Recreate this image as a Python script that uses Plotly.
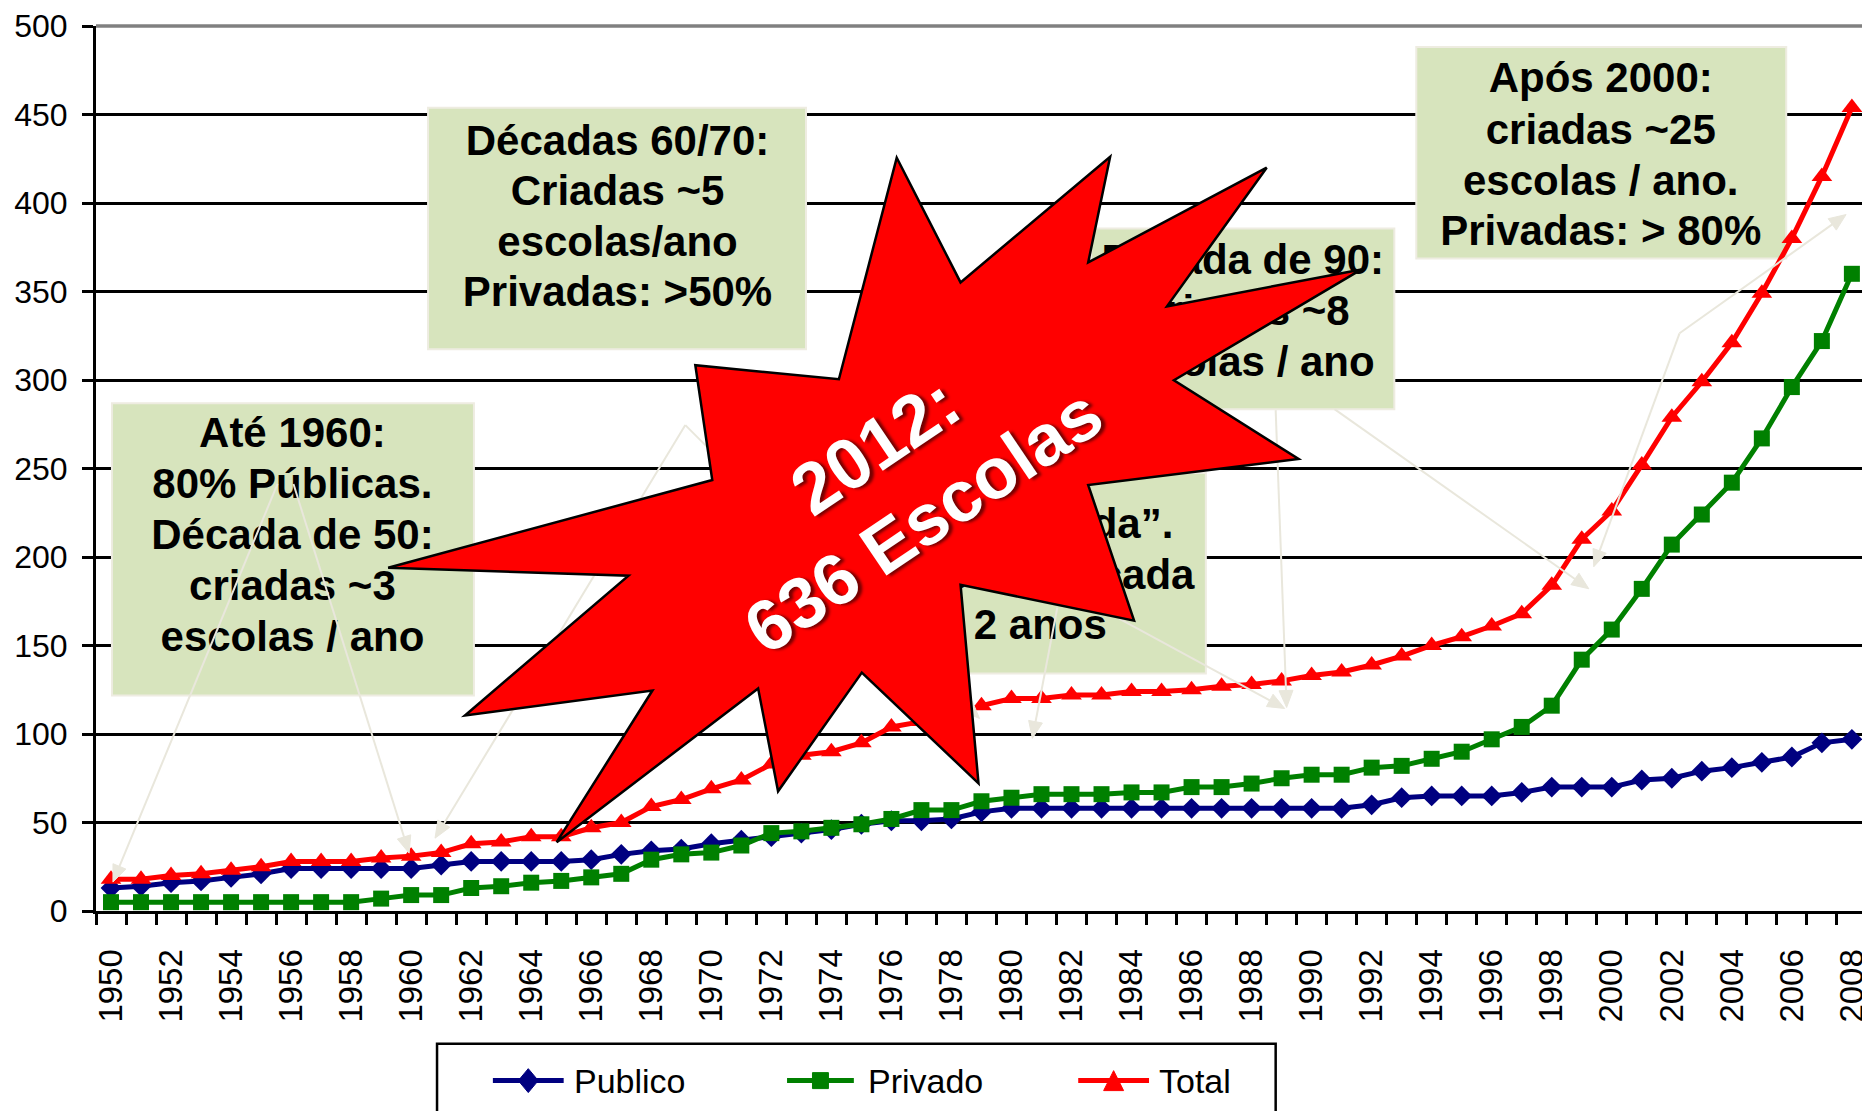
import math
import plotly.graph_objects as go

# ---------------- data ----------------
years = list(range(1950, 2009))
publico = [13, 14, 16, 17, 19, 21, 24, 24, 24, 24,
           24, 26, 28, 28, 28, 28, 29, 32, 34, 35,
           38, 40, 42, 44, 46, 49, 51, 51, 52, 56,
           58, 58, 58, 58, 58, 58, 58, 58, 58, 58,
           58, 58, 60, 64, 65, 65, 65, 67, 70, 70,
           70, 74, 75, 79, 81, 84, 87, 95, 97]
privado = [5, 5, 5, 5, 5, 5, 5, 5, 5, 7,
           9, 9, 13, 14, 16, 17, 19, 21, 29, 32,
           33, 37, 44, 45, 47, 49, 52, 57, 57, 62,
           64, 66, 66, 66, 67, 67, 70, 70, 72, 75,
           77, 77, 81, 82, 86, 90, 97, 104, 116, 142,
           159, 182, 207, 224, 242, 267, 296, 322, 360]
total = [18, 18, 20, 21, 23, 25, 28, 28, 28, 30,
         31, 33, 38, 39, 42, 42, 47, 50, 59, 63,
         69, 74, 83, 88, 90, 95, 104, 107, 110, 116,
         120, 120, 122, 122, 124, 124, 125, 127, 128, 130,
         133, 135, 139, 144, 150, 155, 161, 168, 184, 210,
         226, 252, 279, 299, 321, 349, 380, 415, 454]
series_names = ["Publico", "Privado", "Total"]
y_ticks = list(range(0, 501, 50))
x_ticks = list(range(1950, 2009, 2))

box_texts = [
    ["Até 1960:", "80% Públicas.", "Década de 50:", "criadas ~3", "escolas / ano"],
    ["Décadas 60/70:", "Criadas ~5", "escolas/ano", "Privadas: >50%"],
    ["Década de 90:", "Criadas ~8", "escolas / ano"],
    ["“Estagnada”.", "1 escola a cada", "2 anos"],
    ["Após 2000:", "criadas ~25", "escolas / ano.", "Privadas: > 80%"],
]
star_lines = ["2012:", "636 Escolas"]

# ---------------- geometry (page pixels of the reference) ----------------
PAGE_OFF = 8                      # default body margin of the html page
W, H = 1870 - PAGE_OFF, 1111 - PAGE_OFF
PL, PR, PT, PB = 96, 1870, 24, 911   # plot area in page pixels
STEP = 30.1
X0 = 1949.5
XMAX = X0 + (PR - PL) / STEP
PLOT_H = PB - PT
FONT = "Liberation Sans, Arial, sans-serif"

def dx(px):
    return X0 + (px - PL) / STEP

def dy(py):
    return (PB - py) * 500.0 / PLOT_H

def ppx(px):
    return (px - PL) / (PR - PL)

def ppy(py):
    return (PB - py) / PLOT_H

box_geo = [
    dict(x0=112, x1=475, y0=402, y1=695, cx=293, ly=[435, 487, 538, 589, 640]),
    dict(x0=429, x1=808, y0=106, y1=348, cx=619, ly=[143, 193, 244, 294]),
    dict(x0=1094, x1=1398, y0=227, y1=408, cx=1246, ly=[262, 313, 364]),
    dict(x0=877, x1=1209, y0=472, y1=673, cx=1043, ly=[527, 578, 628]),
    dict(x0=1420, x1=1791, y0=45, y1=257, cx=1605, ly=[80, 132, 183, 233]),
]

arrows = [
    (278, 483, 113, 882),
    (294, 483, 410, 853),
    (687, 424, 436, 838),
    (687, 424, 982, 718),
    (1060, 607, 1035, 738),
    (1122, 618, 1288, 708),
    (1279, 409, 1290, 707),
    (1338, 408, 1593, 588),
    (1684, 332, 1851, 213),
    (1684, 332, 1598, 566),
]

star_pts = [(899, 156), (963, 281), (1113, 155), (1091, 261), (1270, 166), (1170, 305),
            (1365, 268), (1177, 379), (1302, 458), (1091, 484), (1137, 620), (963, 584),
            (981, 783), (864, 672), (780, 791), (760, 688), (558, 842), (654, 690),
            (466, 715), (630, 575), (389, 567), (714, 479), (697, 364), (841, 378)]

NAVY, GREEN, RED = "#000080", "#008000", "#FF0000"
BOXFILL = "#D7E4BD"
ARROWC = "#E9E7DC"

fig = go.Figure()

fig.add_trace(go.Scatter(x=years, y=publico, name=series_names[0], mode="lines+markers",
                         line=dict(color=NAVY, width=5),
                         marker=dict(symbol="diamond", size=16, color=NAVY)))
fig.add_trace(go.Scatter(x=years, y=privado, name=series_names[1], mode="lines+markers",
                         line=dict(color=GREEN, width=5),
                         marker=dict(symbol="square", size=16, color=GREEN)))
fig.add_trace(go.Scatter(x=years, y=total, name=series_names[2], mode="lines+markers",
                         line=dict(color=RED, width=5),
                         marker=dict(symbol="triangle-up", size=18, color=RED)))

shapes = []
for g in box_geo:
    shapes.append(dict(type="rect", xref="x", yref="y", layer="between",
                       x0=dx(g["x0"]), x1=dx(g["x1"]), y0=dy(g["y0"]), y1=dy(g["y1"]),
                       fillcolor=BOXFILL, line=dict(color="#EEECE1", width=2)))

for g, lines in zip(box_geo, box_texts):
    fig.add_trace(go.Scatter(x=[dx(g["cx"])] * len(lines), y=[dy(v) for v in g["ly"]],
                             mode="text", text=lines, textposition="middle center",
                             textfont=dict(family=FONT, size=42, color="black", weight="bold"),
                             hoverinfo="skip", showlegend=False, cliponaxis=False))

# gray top border at 500 (paper-referenced so it is not clipped)
shapes.append(dict(type="line", xref="paper", yref="paper", x0=0, x1=1, y0=1, y1=1,
                   line=dict(color="#808080", width=3.5), layer="above"))

for (x0, y0, x1, y1) in arrows:
    L = math.hypot(x1 - x0, y1 - y0)
    ux, uy = (x1 - x0) / L, (y1 - y0) / L
    hl, hw = 17, 7
    bx, by = x1 - ux * hl, y1 - uy * hl
    shapes.append(dict(type="line", xref="x", yref="y", layer="above",
                       x0=dx(x0), y0=dy(y0), x1=dx(bx), y1=dy(by),
                       line=dict(color=ARROWC, width=2)))
    p1 = (bx - uy * hw, by + ux * hw)
    p2 = (bx + uy * hw, by - ux * hw)
    path = "M {},{} L {},{} L {},{} Z".format(dx(x1), dy(y1), dx(p1[0]), dy(p1[1]), dx(p2[0]), dy(p2[1]))
    shapes.append(dict(type="path", xref="x", yref="y", layer="above", path=path,
                       fillcolor=ARROWC, line=dict(color=ARROWC, width=1)))

star_path = "M " + " L ".join("{},{}".format(dx(p[0]), dy(p[1])) for p in star_pts) + " Z"
shapes.append(dict(type="path", xref="x", yref="y", layer="above", path=star_path,
                   fillcolor="#FF0000", line=dict(color="black", width=2.5)))

annotations = []
for txt, (cx, cy) in zip(star_lines, [(877, 445), (925, 520)]):
    annotations.append(dict(x=dx(cx), y=dy(cy), xref="x", yref="y", text=txt, showarrow=False,
                            textangle=-34, xanchor="center", yanchor="middle",
                            font=dict(family=FONT, size=72, color="white", weight="bold",
                                      shadow="3px 3px 3px rgba(0,0,0,0.55)")))

LEG_Y = 1081
shapes.append(dict(type="rect", xref="paper", yref="paper", layer="above",
                   x0=ppx(438), x1=ppx(1279), y0=ppy(1044), y1=ppy(1125),
                   fillcolor="white", line=dict(color="black", width=2.5)))
legend_items = [(series_names[0], NAVY, "diamond", 494, 565, 573),
                (series_names[1], GREEN, "square", 789, 856, 868),
                (series_names[2], RED, "triangle", 1081, 1152, 1160)]
for name, col, sym, lx0, lx1, tx in legend_items:
    shapes.append(dict(type="line", xref="paper", yref="paper", layer="above",
                       x0=ppx(lx0), x1=ppx(lx1), y0=ppy(LEG_Y), y1=ppy(LEG_Y),
                       line=dict(color=col, width=5)))
    cx = (lx0 + lx1) / 2
    if sym == "diamond":
        pts = [(cx, LEG_Y - 12), (cx + 10, LEG_Y), (cx, LEG_Y + 12), (cx - 10, LEG_Y)]
    elif sym == "square":
        pts = [(cx - 8, LEG_Y - 8), (cx + 8, LEG_Y - 8), (cx + 8, LEG_Y + 8), (cx - 8, LEG_Y + 8)]
    else:
        pts = [(cx, LEG_Y - 10), (cx + 10, LEG_Y + 10), (cx - 10, LEG_Y + 10)]
    path = "M " + " L ".join("{},{}".format(ppx(p[0]), ppy(p[1])) for p in pts) + " Z"
    shapes.append(dict(type="path", xref="paper", yref="paper", layer="above", path=path,
                       fillcolor=col, line=dict(color=col, width=1)))
    annotations.append(dict(x=ppx(tx), y=ppy(LEG_Y), xref="paper", yref="paper", text=name,
                            showarrow=False, xanchor="left", yanchor="middle",
                            font=dict(family=FONT, size=34, color="black")))

fig.update_layout(
    width=W, height=H,
    margin=dict(l=PL - PAGE_OFF, r=0, t=PT - PAGE_OFF, b=H - (PB - PAGE_OFF), pad=0),
    paper_bgcolor="white", plot_bgcolor="white",
    showlegend=False,
    shapes=shapes, annotations=annotations,
    xaxis=dict(range=[X0, XMAX], tickmode="array", tickvals=x_ticks,
               ticktext=[str(v) for v in x_ticks], tickangle=-90, ticks="",
               ticklabelstandoff=22, ticklabeloverflow="allow",
               tickfont=dict(family=FONT, size=33, color="black"),
               showline=True, linecolor="black", linewidth=3, showgrid=False, zeroline=False,
               minor=dict(tickmode="array", tickvals=[X0 + i for i in range(60)],
                          ticks="outside", ticklen=11, tickwidth=2.5, tickcolor="black",
                          showgrid=False)),
    yaxis=dict(range=[0, 500], tickmode="array", tickvals=y_ticks,
               ticks="outside", ticklen=11, tickwidth=2.5, tickcolor="black",
               ticklabelstandoff=8, ticklabeloverflow="allow",
               tickfont=dict(family=FONT, size=32, color="black"),
               showline=True, linecolor="black", linewidth=3,
               showgrid=True, gridcolor="black", gridwidth=3, zeroline=False),
)

fig.write_html("out.html")
